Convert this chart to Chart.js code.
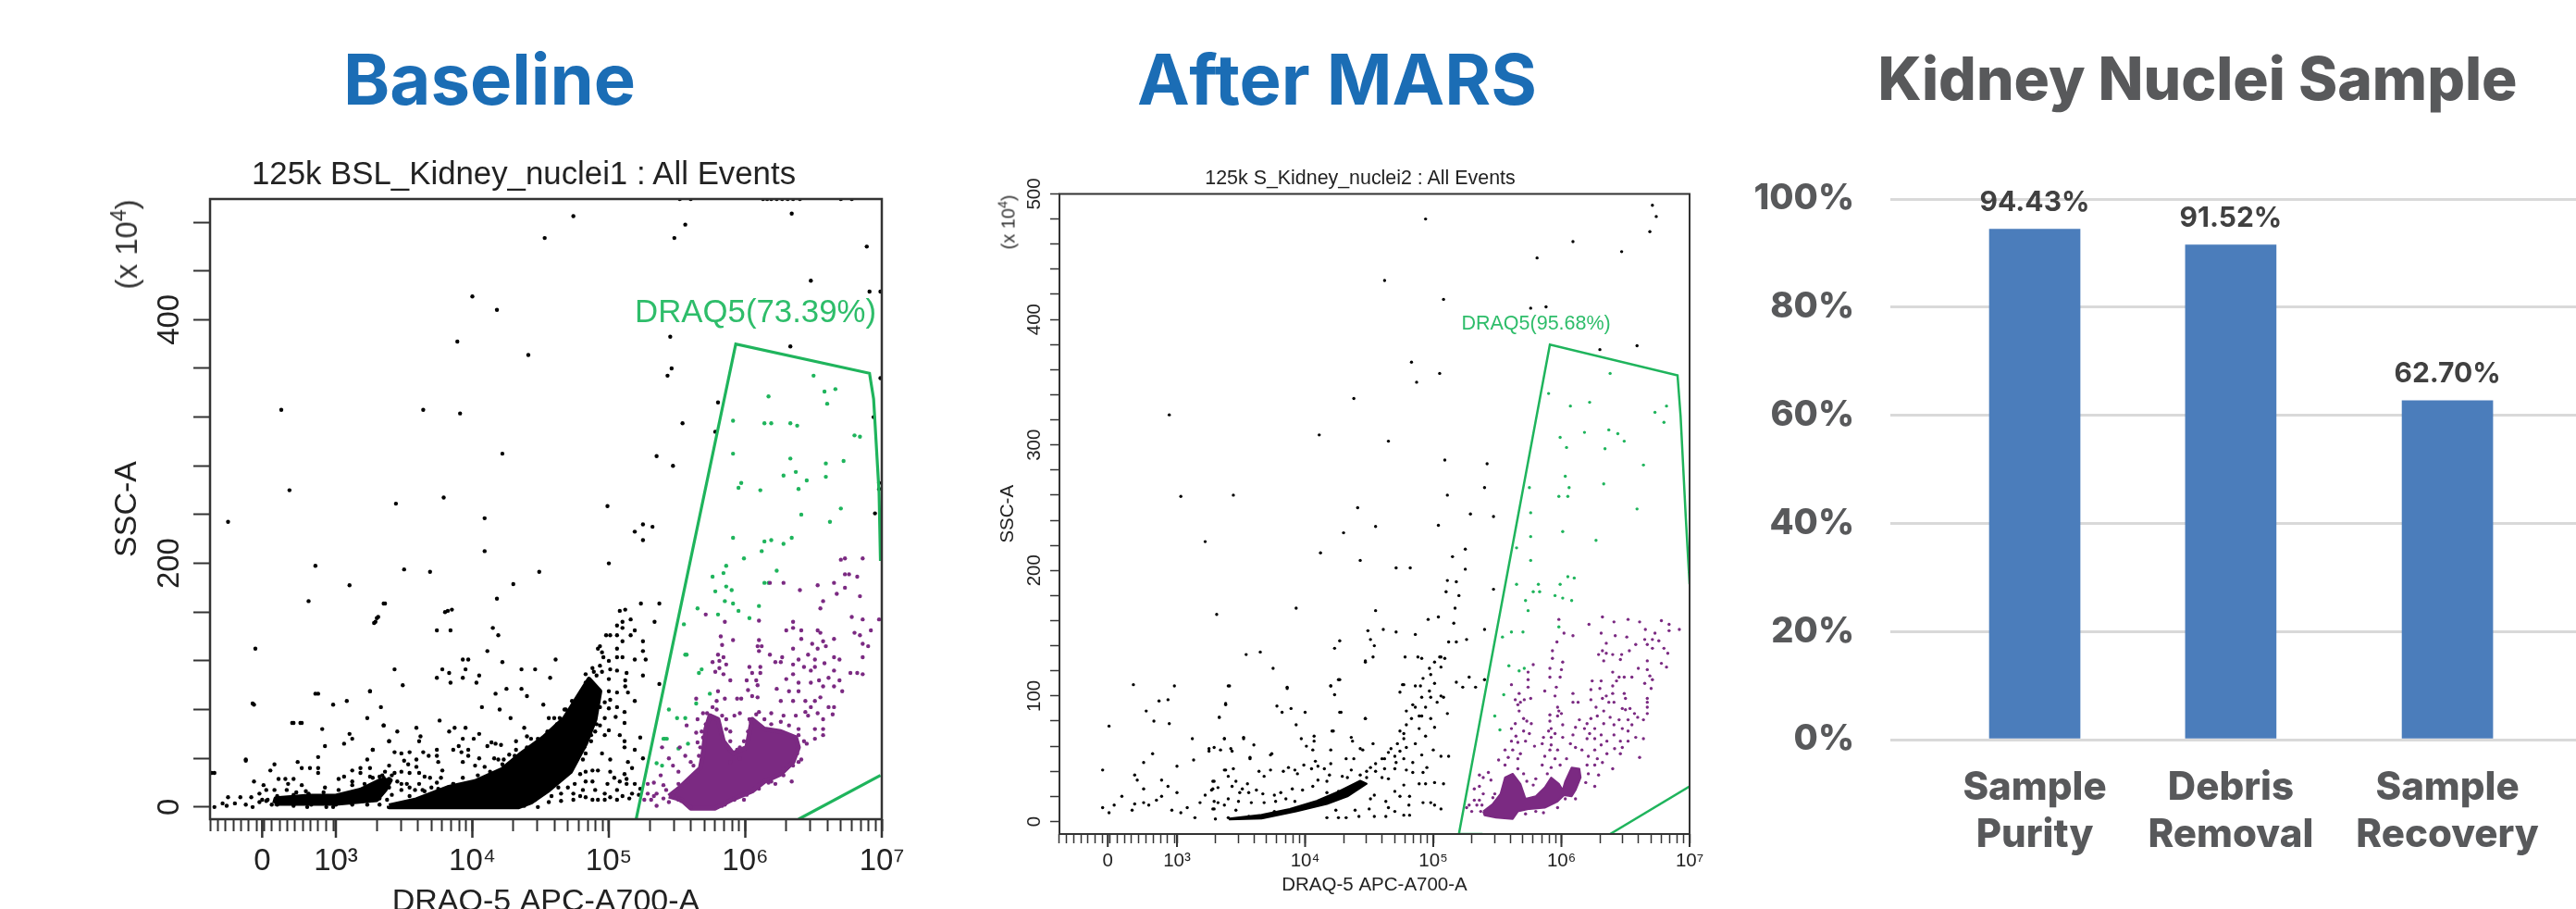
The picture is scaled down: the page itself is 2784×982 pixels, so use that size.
<!DOCTYPE html>
<html>
<head>
<meta charset="utf-8">
<title>Kidney Nuclei Sample</title>
<script src="https://cdn.jsdelivr.net/npm/chart.js@4"></script>
<style>
  html, body { margin: 0; background: #fff; }
  body { position: relative; width: 2784px; height: 982px; overflow: hidden; }
  canvas { position: absolute; }
  #baseline, #mars { filter: blur(0.6px); }
  .heading { position: absolute; top: 85px; transform: translate(-50%, -50%); font: 700 76px Inter, sans-serif; white-space: nowrap; line-height: 1; }
  .plot-title { position: absolute; transform: translate(-50%, -50%); font-family: "Liberation Sans", sans-serif; color: #222; white-space: nowrap; filter: blur(0.5px); }
  .unit { position: absolute; font-family: "Liberation Sans", sans-serif; color: #333; white-space: nowrap; transform: translate(-50%, -50%) rotate(-90deg); filter: blur(0.5px); }
  .unit sup { font-size: 70%; line-height: 0; }
</style>
</head>
<body>
<div class="heading" style="left:529px;color:#1b6db5">Baseline</div>
<div class="heading" style="left:1445px;color:#1b6db5">After MARS</div>
<div class="heading" style="left:2375px;color:#58595b;font-size:64px;font-weight:800">Kidney Nuclei Sample</div>
<div class="plot-title" style="left:566px;top:187px;font-size:34.8px">125k BSL_Kidney_nuclei1 : All Events</div>
<div class="plot-title" style="left:1470px;top:192px;font-size:21.4px">125k S_Kidney_nuclei2 : All Events</div>
<div class="unit" style="left:137px;top:264px;font-size:33px">(x 10<sup>4</sup>)</div>
<div class="unit" style="left:1090px;top:240px;font-size:20px">(x 10<sup>4</sup>)</div>
<canvas id="baseline" width="936" height="870" style="left:100px;top:150px"></canvas>
<canvas id="mars" width="820" height="812" style="left:1060px;top:170px"></canvas>
<canvas id="summary" width="904" height="800" style="left:1880px;top:150px"></canvas>
<script>
// all flow values: x in decades of the biexponential axis, y in SSC-A x 10^4
const baselineGate = [[5.20,-10],[5.93,380],[6.91,356],[6.94,335],[6.98,258],[6.99,202]];
const baselineGateLow = [[6.39,-10],[6.99,26]];
const baselineBlackCore = [[3.39,1],[3.59,6],[3.82,16],[4.02,21],[4.22,31],[4.36,44],[4.52,57],[4.675,73],[4.765,89],[4.855,105],[4.935,95],[4.90,72],[4.83,52],[4.72,29],[4.56,14],[4.43,4],[4.335,0],[3.39,0],[3.39,1]];
const baselineBlackBand = [[2.55,3],[2.56,7],[2.8,9],[3.0,9],[3.18,14],[3.33,22],[3.40,22],[3.36,14],[3.30,6],[3.0,3],[2.55,3]];
const baselinePurpleCore = [[5.44,9],[5.51,15],[5.67,32],[5.69,44],[5.71,64],[5.74,75],[5.80,72],[5.84,54],[5.91,44],[6.01,49],[6.05,72],[6.14,64],[6.26,62],[6.37,57],[6.39,49],[6.35,37],[6.26,27],[6.14,21],[6.05,13],[5.90,6],[5.78,-1],[5.60,-1],[5.53,6],[5.44,9]];
const baselineBlack = [
  [2.09,28],[2.21,234],[2.39,85],[2.41,130],[2.34,38],[2.60,326],[2.66,260],[2.85,198],[2.80,169],[2.85,93],[2.68,69],[2.74,69],
  [3.44,249],[3.64,326],[3.91,323],[3.79,254],[4.00,419],[4.18,408],[3.89,382],[4.41,371],[4.22,290],[4.09,237],[4.09,210],[4.99,247],
  [3.50,195],[3.69,193],[3.10,182],[3.35,167],[3.30,155],[3.28,151],[3.80,160],[3.85,162],[4.30,183],[4.49,193],[4.18,171],[5.00,200],
  [4.74,485],[4.53,467],[5.56,478],[5.48,467],[6.34,487],[6.89,460],[6.48,432],[6.91,423],[6.99,423],[5.45,386],[6.33,378],[5.46,360],[5.43,354],
  [5.80,332],[5.54,315],[5.78,308],[5.35,288],[5.47,280],[6.99,352],[6.94,320],[6.98,266],[6.98,261],[6.95,241],[5.25,232],[5.19,226],[5.32,230],[5.25,219],
  [6.13,499],[6.16,499],[6.19,499],[6.23,499],[6.27,499],[6.31,499],[6.35,499],[6.4,499],[6.7,499],[6.78,499],[5.6,499],[5.52,499],
  [3.36,167],[3.31,156],[3.29,152],[3.82,161],[3.74,145],[3.84,145],[4.15,147],[4.19,141],[4.11,128],[3.93,121],[3.97,121],[4.22,119],[4.61,121],
  [3.43,113],[3.78,113],[3.95,113],[4.36,113],[4.46,113],[3.83,110],[3.74,106],[3.93,106],[4.05,108],[3.84,102],[4.03,102],[3.49,100],[4.25,97],[4.36,97],[4.57,106],
  [3.25,95],[4.17,93],[4.40,91],[3.33,82],[4.07,82],[4.20,80],[4.52,84],[3.76,71],[4.28,73],[3.35,67],[3.59,65],[3.87,65],[3.95,65],[3.83,62],[4.38,65],[3.45,62],
  [3.62,58],[4.05,60],[4.01,56],[3.93,56],[3.61,54],[3.39,54],[4.40,58],[4.43,56],[4.56,73],[4.60,73],[4.64,73],[3.27,47],[3.90,50],[3.97,47],[3.86,47],[4.11,50],[4.14,53],[4.17,52],[4.21,51],[4.32,54],[4.32,47],
  [3.43,45],[3.48,44],[3.54,45],[3.64,45],[3.68,42],[3.74,47],[3.74,42],[3.92,45],[3.97,42],[4.05,40],[4.16,40],[4.19,39],[4.23,39],[4.27,43],
  [3.50,38],[3.59,39],[3.53,35],[3.39,34],[3.59,33],[3.75,37],[3.93,37],[4.02,34],[4.09,33],[3.78,30],[3.61,28],[3.54,28],[3.48,29],[3.36,29],[3.32,25],[3.39,23],[3.45,21],[3.52,19],[3.61,19],[3.69,24],[3.74,20],[3.77,24],[3.65,25],[3.93,24],[3.86,19],[3.58,14],[3.48,14],[3.41,10],[3.32,11],[3.54,9],[3.65,13],[3.75,15],[3.70,16],[3.27,16],[3.34,16],
  [4.675,80],[4.73,87],[4.83,109],[4.88,114],[4.91,108],[4.95,111],[5.00,120],[4.96,123],[4.92,130],[4.95,127],[4.935,132],[5.06,130],[5.06,123],[5.10,123],[5.01,113],[5.06,112],[5.13,110],[5.00,105],[5.12,104],[5.12,99],[5.14,94],[5.0,95],[5.06,94],[4.97,86],[5.01,88],[5.06,82],[5.0,81],[4.97,73],[5.05,74],[5.115,78],[5.115,69],[4.935,67],[5.0,63],[5.08,59],[5.115,54],[5.115,49],[4.97,59],[4.90,62],[4.87,54],[4.83,44],[4.81,39],
  [4.98,141],[5.01,141],[5.06,141],[5.16,141],[5.10,136],[5.25,136],[5.25,128],[5.19,121],[5.27,121],[5.25,108],[5.37,101],[5.19,87],[5.06,149],[5.10,152],[5.16,154],[5.10,147],[5.19,145],[5.08,161],[5.12,162],[5.235,167],[5.37,167],[5.335,152],
  [5.23,57],[5.19,47],[5.25,40],[5.14,37],[5.17,32],[5.115,27],[5.01,39],[4.95,44],[4.88,30],[4.92,30],[4.83,29],[5.01,29],[5.04,24],[4.83,21],[4.88,21],[4.99,19],[4.79,27],[4.75,19],[4.70,16],[4.65,11],[4.74,11],[4.81,14],[4.90,14],[4.97,11],[5.06,14],[5.13,19],[5.19,19],[5.23,15],[5.17,11],[5.10,9],[5.01,8],[4.92,6],[4.83,8],[4.74,6],[4.65,5],[4.56,4],[4.48,0],[4.38,1],[4.63,16],[4.58,9],[5.15,7],[5.22,10],[5.13,23],[5.08,21],[4.79,9],[4.88,6],[4.97,6],[5.06,6],
  [2.11,28],[2.40,84],[2.87,93],[2.98,84],[3.08,87],[3.25,95],[2.69,69],[2.75,69],[3.23,73],[3.35,67],[2.90,64],[3.10,60],[3.12,56],[3.06,52],[2.92,50],[3.39,54],[3.27,47],[2.34,39],[2.87,41],[3.23,39],[2.72,37],[2.55,35],[2.52,30],[2.75,32],[2.81,32],[2.87,32],[2.87,28],[3.12,30],[3.18,32],[3.18,28],[3.25,32],[2.40,21],[2.58,23],[2.63,23],[2.69,23],[3.02,23],[3.06,25],[3.12,21],[3.25,25],[2.65,19],[2.47,18],[2.75,18],
  [2.21,8],[2.30,8],[2.38,8],[2.44,11],[2.49,14],[2.55,14],[2.64,14],[2.71,12],[2.78,13],[2.92,16],[2.11,0],[2.17,3],[2.20,1],[2.26,3],[2.34,2],[2.39,0],[2.44,4],[2.50,6],[2.53,2],[2.79,0],[2.93,0],[2.98,0],[3.32,21],[3.35,24],[3.41,26],[3.23,7],[3.27,14],[3.32,7],[3.375,6],[3.43,2],
  [3.86,19],[4.04,26],[4.13,29],[4.22,35],[4.31,42],[4.40,49],[4.48,56],[4.55,62],[4.62,68],[4.685,80],[4.74,86],[4.80,95],[4.83,102],[4.89,111],[4.935,116],[4.91,92],[4.935,82],[4.91,68],[4.87,59],[4.82,49],[4.765,39],[4.70,29],[4.63,21],[4.55,15],[4.46,6],
  [3.27,24],[3.34,26],[3.43,28],[3.39,16],[3.48,19],[3.54,16],[3.635,14],[3.70,10],[3.79,14],
  [2.46,6],[2.49,5],[2.57,9],[2.69,10],[2.80,11],[2.91,12],[3.02,14],[3.12,18],[3.21,19],[2.57,2],[2.69,1],[2.82,2],[3.0,2],[3.12,2],[3.23,2],[3.32,2]
];
const baselineGreen = [
  [6.17,337],[6.58,341],[6.66,343],[6.60,331],[6.50,354],[5.91,317],[6.14,315],[6.19,315],[6.33,315],[6.38,313],[6.80,305],[6.84,304],[5.91,290],[6.33,286],[6.72,284],[6.59,282],[6.28,272],[6.37,275],[6.45,268],[6.59,271],[5.97,266],[5.95,262],[6.11,260],[6.39,261],[6.70,245],[6.41,240],[6.62,234],[5.91,221],[6.34,221],[6.14,218],[6.19,219],[6.28,216],[6.12,210],[5.99,204],[5.86,198],[5.76,189],[6.23,194],[6.14,184],[6.17,184],[5.84,192],[5.86,181],[5.78,177],[5.90,178],[5.85,169],[5.91,167],[5.80,158],[5.95,161],[5.65,163],[6.03,155],[6.10,165],[5.55,150],[5.57,125],[5.68,113],[5.50,73],[5.41,56],[5.51,48],[5.64,85],[5.74,93],[5.35,36],
  [5.40,56],[5.425,56],[5.58,52],[5.56,73],[5.66,110],[5.56,125],[5.44,80],[5.39,34]
];
const baselinePurple = [
  [6.70,203],[6.73,204],[6.86,204],[6.73,191],[6.76,191],[6.82,189],[6.65,184],[6.53,182],[6.73,180],[6.40,178],[6.18,184],[6.28,184],[6.67,175],[6.84,173],[6.57,169],[6.55,163],[6.78,156],[6.86,154],[6.98,154],[6.35,152],[6.35,147],[6.41,145],[6.30,145],[6.53,145],[6.55,143],[6.80,143],[6.84,141],[6.92,145],[6.65,138],[6.41,138],[6.57,136],[6.49,134],[6.59,132],[6.53,130],[6.35,130],[6.86,134],[6.90,132],[6.18,125],[6.27,123],[6.46,125],[6.65,123],[6.69,121],[6.86,123],[6.22,119],[6.26,119],[6.39,121],[6.51,121],[6.58,118],[6.35,117],[6.43,115],[6.51,115],[6.48,112],[6.65,112],[6.77,110],[6.82,110],[6.86,109],[6.03,115],[6.05,110],[6.11,115],[6.11,110],[6.35,109],[6.30,105],[6.39,102],[6.48,102],[6.54,104],[6.61,106],[6.69,104],[6.65,99],[6.57,99],[6.71,95],
  [5.82,140],[5.83,133],[5.91,137],[6.10,137],[6.09,132],[6.12,132],[6.10,128],[6.10,153],[5.85,152],[5.71,158],[5.80,125],[5.84,123],[5.81,120],[5.76,119],[5.86,117],[5.78,111],[5.84,109],[5.81,114],[5.89,104],[6.01,104],[6.08,104],[6.09,100],[6.02,96],[6.05,91],[6.09,90],[5.80,95],[5.79,87],[5.85,89],[5.64,89],[5.94,89],[5.97,89],
  [6.23,97],[6.32,95],[6.39,95],[6.26,87],[6.35,87],[6.44,87],[6.51,87],[6.55,90],[6.61,82],[6.65,82],[6.48,82],[6.37,75],[6.44,78],[6.46,75],[6.53,77],[6.57,72],[6.64,76],[6.51,64],[6.57,64],[6.57,59],[6.51,56],[6.45,52],[6.39,64],[6.28,75],[6.19,77],[6.10,78],[6.03,72],[5.96,77],[5.92,75],[5.86,72],[5.89,62],[5.69,77],[5.65,72],[5.68,62],[5.57,67],[5.64,61],[5.65,53],[5.52,49],[5.39,49],[5.44,40],[5.56,42],[5.60,37],[5.47,34],[5.51,29],[5.38,26],[5.33,20],[5.285,19],[5.40,18],[5.285,11],[5.26,6],[5.33,9],[5.40,7],[5.35,1],[5.44,4],[5.51,6],[5.89,37],[5.96,40],[5.96,49],[5.88,48],[6.41,39],[6.39,37],[6.34,21],[6.22,19],[6.17,20],[6.28,31],[5.99,6],[5.85,2],
  [5.67,49],[5.69,57],[5.71,68],[5.72,77],[5.76,82],[5.79,80],[5.83,75],[5.86,64],[5.89,54],[5.94,47],[5.99,54],[6.02,62],[6.04,70],[6.08,76],[6.14,72],[6.19,68],[6.26,70],[6.32,67],[6.39,59],[6.43,54],[6.38,44],[6.35,34],[6.28,26],[6.19,21],[6.10,15],[6.01,10],[5.92,6],[5.83,1],[5.60,0],[5.53,5],[5.47,9],[5.58,21],[5.65,29],[5.51,19],[5.42,14],[5.35,11],[5.31,6],[5.62,34],[5.66,42]
];

const marsGate = [[5.385,-10],[5.20,-10],[5.91,380],[6.906,355.5],[6.93,323],[6.97,243],[7.0,189]];
const marsGateLow = [[6.38,-10],[7.0,28]];
const marsBlackCore = [[3.41,2.4],[3.66,5.4],[3.88,10],[4.09,16.4],[4.26,23.8],[4.43,32.4],[4.48,30],[4.33,20],[4.17,14],[3.93,8],[3.66,2.4],[3.41,1.7],[3.41,2.4]];
const marsPurpleCore = [[5.39,8],[5.465,14],[5.525,22],[5.56,35],[5.62,38],[5.68,30],[5.72,18],[5.80,20],[5.87,27],[5.92,35],[5.98,30],[6.01,25],[6.03,32],[6.08,43],[6.14,42],[6.15,35],[6.11,25],[6.08,20],[6.02,21],[5.97,16],[5.87,11],[5.75,10],[5.66,8],[5.62,2],[5.49,3],[5.40,5],[5.39,8]];
const marsBlack = [
  [4.94,480],[4.62,431],[5.08,416],[6.71,491],[6.74,482],[6.69,470],[6.09,462],[6.47,454],[5.81,449],[5.76,409],[5.88,410],[6.59,379],[6.30,376],[4.83,366],[5.05,357],[4.87,350],[4.38,337],[2.94,324],[4.11,308],[4.65,303],[5.09,288],[5.42,285],[5.40,266],[5.11,260],[3.03,259],[3.44,260],[4.41,250],[5.47,243],[5.29,245],[5.04,236],[4.55,235],[4.30,230],[3.22,223],[4.12,214],[5.25,217],[5.15,211],[4.43,208],[4.71,202],[4.82,202],[5.25,201],[5.11,192],[5.18,191],[5.10,183],[5.20,180],[5.47,185],[3.93,170],[4.55,168],[3.31,165],[5.17,170],[5.04,163],[4.96,161],[5.16,158],[5.40,153],[4.49,152],[4.61,153],[4.71,151],[4.86,149],[4.51,145],[4.27,144],[5.26,145],[5.12,143],[4.23,138],[4.54,140],[5.18,143],[3.65,135],[3.54,133],[5.09,130],[5.05,131],[4.47,127],[4.78,131],[4.88,131],[3.75,122],[4.26,113],[2.66,109],[2.98,108],[3.40,108],[4.20,108],[4.76,109],[3.86,106],[5.18,111],[5.28,115],[5.40,113],[5.23,107],[5.33,107],[2.86,96],[2.93,97],[3.38,94],[3.78,92],[4.0,87],[3.82,87],[2.76,88],[2.82,80],[2.94,78],[3.33,83],[4.27,87],[4.47,82],[4.22,72],[2.47,76],[5.08,99],[5.11,86],[5.12,52],[2.42,41],
  [2.67,37],[2.81,54],[2.74,47],[2.69,33],[2.57,20],[2.88,33],[3.0,44],[2.42,11],[2.47,7],[2.51,13],[2.65,9],[2.67,14],[2.74,15],[2.78,13],[2.84,17],[2.88,20],[2.74,26],[2.93,28],[3.0,23],[2.96,9],[3.08,11],[3.03,7],[3.18,15],[3.14,3],[3.12,66],[3.25,58],[3.37,66],[3.13,49],[3.52,67],[3.42,58],[3.57,51],[3.29,32],[3.27,25],[3.29,10],[3.38,41],[3.74,54],[3.46,32],
  [3.41,108],[3.86,107],[3.38,93],[3.33,83],[3.89,90],[4.28,87],[4.20,108],[4.27,113],[4.23,101],[4.47,128],[4.53,131],[4.91,130],[4.77,109],[4.74,103],[4.86,108],[4.90,108],[3.93,77],[4.21,72],[4.47,82],[3.37,66],[3.52,66],[3.60,61],[3.97,66],[4.07,68],[4.07,64],[4.36,67],[4.37,64],[4.01,60],[4.06,57],[4.20,57],[4.43,58],[4.45,57],[4.53,62],[3.29,59],[3.25,56],[3.34,57],[3.43,56],[3.73,53],[3.57,50],[4.32,50],[4.38,50],
  [3.37,41],[3.44,42],[3.64,40],[3.73,41],[3.40,36],[3.68,36],[3.83,40],[3.87,43],[3.92,41],[3.94,38],[3.99,45],[4.05,42],[4.10,44],[4.15,42],[4.20,46],[4.08,48],[3.28,32],[3.32,27],[3.28,26],[3.43,28],[3.55,30],[3.51,26],[3.49,23],[3.56,23],[3.62,25],[3.67,22],[3.76,21],[3.81,23],[3.90,26],[3.98,25],[4.06,28],[4.10,33],[4.17,32],[4.19,37],[4.29,36],[4.33,35],[4.36,41],[3.22,21],[3.29,16],[3.32,15],[3.40,18],[3.48,16],[3.58,15],[3.68,15],[3.77,16],[3.85,18],[3.92,16],
  [3.28,10],[3.37,13],[3.46,9],[3.30,2],[4.17,3],[4.26,3],[4.32,3],[4.42,4],[4.54,4],[4.63,4],[4.77,5],[4.815,5],[4.24,9],[4.39,9],[4.50,10],[4.65,11],[4.70,8],[4.81,13],[4.92,15],[4.98,15],[5.01,13],[5.06,10],[4.51,18],[4.63,16],[4.74,20],[4.815,20],[4.54,21],[4.77,29],[4.89,30],[4.94,30],[5.01,31],[5.08,30],[4.70,24],
  [4.43,37],[4.48,40],[4.51,43],[4.55,46],[4.60,50],[4.65,55],[4.62,50],[4.70,52],[4.67,58],[4.72,62],[4.77,66],[4.74,72],[4.79,77],[4.83,82],[4.86,91],[4.91,99],[4.97,104],[5.01,110],[4.98,117],[5.01,127],[5.06,131],[4.92,114],[4.97,122],[5.06,123],
  [4.48,35],[4.55,40],[4.62,42],[4.70,42],[4.60,35],[4.65,34],[4.71,47],[4.77,50],[4.84,47],[4.91,53],[4.86,62],[4.94,68],[4.79,59],[4.74,56],[4.77,70],[4.89,74],[4.98,82],[4.89,84],[4.79,88],[4.94,91],[5.03,95],[4.98,99],[5.06,100],[4.84,93],[4.91,84],[5.01,75],[5.0,57],[5.06,52],[4.95,43],[4.84,39],[4.79,41],[4.92,39],
  [3.40,3],[3.56,4],[3.76,8],[3.92,10],[4.07,14],[4.21,20],[4.36,24],[4.43,30],[4.26,24],[4.17,23]
];
const marsGreen = [
  [5.90,341],[6.07,331],[6.22,334],[6.38,357],[6.73,326],[6.82,331],[6.80,318],[5.99,306],[6.18,310],[6.37,312],[6.44,309],[6.49,303],[6.04,298],[6.34,297],[6.64,284],[6.03,275],[6.06,266],[6.33,269],[5.98,259],[6.05,259],[5.75,266],[6.59,249],[5.76,246],[6.01,231],[6.27,224],[5.76,227],[5.65,218],[5.76,208],[5.65,189],[5.99,189],[6.05,195],[6.10,194],[5.82,189],[5.78,183],[5.83,183],[5.72,176],[5.74,168],[5.95,180],[6.01,178],[6.08,176],[5.98,155],[5.54,147],[5.61,151],[5.70,151],[5.59,124],[5.67,120],[5.71,122],[5.48,84],[5.55,101],[5.52,73]
];
const marsPurple = [
  [6.215,157],[6.41,159],[6.52,161],[6.32,163],[6.61,159],[6.78,160],[6.84,157],[6.92,153],[6.84,152],[6.655,153],[6.73,150],[6.31,150],[6.42,148],[6.51,147],[6.71,145],[6.76,144],[6.65,145],[5.98,161],[6.02,150],[6.09,148],[6.35,142],[6.58,141],[6.67,141],[6.71,138],[6.80,138],[5.965,143],[6.32,136],[6.35,134],[6.40,133],[6.53,136],[6.47,133],[6.29,133],[6.83,134],[5.93,136],[5.93,130],[6.46,129],[6.33,128],[6.67,128],[6.78,126],[6.82,123],[6.01,127],[5.78,125],[5.91,122],[6.0,121],[6.60,122],[6.67,121],[6.40,119],[6.69,116],[6.71,113],[6.45,115],[6.49,115],[6.55,115],
  [5.74,119],[5.91,115],[5.99,115],[5.74,113],[6.43,112],[6.24,112],[6.31,112],[6.40,108],[6.65,110],[6.70,106],[5.61,109],[5.74,107],[5.96,107],[6.23,105],[6.30,106],[5.87,104],[6.09,102],[6.49,102],[6.40,102],[5.67,102],[6.35,100],[6.32,98],[5.95,100],[6.50,98],[6.23,97],[5.76,98],[6.67,98],[6.09,95],[6.13,95],[6.37,95],[6.41,95],[6.67,95],[5.64,97],[5.68,95],[5.71,97],[5.66,93],[6.67,91],[6.475,90],[6.50,89],[5.97,91],[6.27,91],[6.33,88],[5.67,88],[5.98,88],[6.67,86],[5.91,85],[5.97,84],[6.0,86],[6.57,86],[6.535,90],[6.28,84],[6.38,83],[6.45,81],[6.595,83],[6.64,81],[6.23,82],[6.14,81],[5.91,80],[5.705,82],[5.64,78],[5.61,74],[5.73,80],[5.765,78],[6.01,77],[6.20,78],[6.52,81],[6.55,77],[6.33,78],[6.41,77],
  [5.92,74],[6.11,75],[6.18,74],[6.26,74],[6.475,74],[5.705,72],[5.75,70],[5.90,72],[5.95,70],[6.09,69],[6.22,70],[6.31,69],[6.41,69],[6.52,72],[6.58,67],[6.64,66],[5.645,68],[5.86,67],[5.92,67],[6.01,67],[6.20,66],[6.26,66],[6.355,64],[6.46,64],[6.52,64],[5.61,64],[5.66,63],[5.72,64],[5.85,62],[5.92,61],[6.07,62],[5.79,60],[6.11,59],[6.31,61],[6.475,59],[6.415,58],[5.56,57],[5.62,57],[5.68,54],[5.91,57],[5.97,57],[6.16,57],[6.26,57],[6.355,54],[6.46,54],[6.61,51],[5.585,51],[5.66,50],[5.87,52],[5.95,50],[6.04,50],[6.21,52],[6.28,50],[5.51,49],[5.56,45],[5.66,42],[5.85,45],[5.92,43],[5.99,45],[6.20,45],[6.26,45],[6.32,47],[6.40,42],[5.89,38],[6.21,38],[6.29,37],
  [5.36,37],[5.43,39],[5.39,35],[5.45,33],[5.705,38],[5.73,32],[5.80,34],[5.78,29],[6.19,31],[6.26,28],[5.36,28],[5.32,26],[5.39,22],[5.48,22],[5.32,17],[5.36,17],[5.465,19],[5.28,13],[5.34,13],[5.30,8],[5.38,13],[6.11,18],[5.97,11],[5.86,7],[5.80,8],[5.72,6],[6.03,18],[5.26,11],[5.37,8]
];

const flowMajorTicks = [2.46, 3, 4, 5, 6, 7];
const flowMajorLabels = ['0', '10³', '10⁴', '10⁵', '10⁶', '10⁷'];

const categories = [['Sample', 'Purity'], ['Debris', 'Removal'], ['Sample', 'Recovery']];
const percentValues = [94.43, 91.52, 62.70];
const categorySlots = [0, 0.95, 2];

const GREEN = '#1fb45c';
const PURPLE = '#7b2a82';
const AXIS = '#333333';

function flowMinorTicks() {
  const out = [];
  for (let v = 2.08; v < 3; v += 0.0565) out.push(v);
  for (let d = 3; d < 7; d++) {
    for (let m = 2; m < 10; m++) out.push(d + Math.log10(m));
  }
  return out;
}

const flowFrame = {
  id: 'flowFrame',
  afterDraw(chart) {
    const { ctx, chartArea: a, scales } = chart;
    const opt = chart.options.plugins.flowFrame;
    ctx.save();
    ctx.strokeStyle = AXIS;
    ctx.lineWidth = opt.line;
    ctx.strokeRect(a.left, a.top, a.width, a.height);
    flowMajorTicks.forEach(v => {
      const px = scales.x.getPixelForValue(v);
      ctx.beginPath();
      ctx.moveTo(px, a.bottom);
      ctx.lineTo(px, a.bottom + opt.major);
      ctx.stroke();
    });
    ctx.fillStyle = '#2ebd6a';
    ctx.font = opt.gateFont + 'px "Liberation Sans"';
    ctx.textAlign = 'left';
    ctx.textBaseline = 'middle';
    ctx.fillText(opt.gateText, scales.x.getPixelForValue(opt.gateAt[0]), scales.y.getPixelForValue(opt.gateAt[1]));
    ctx.restore();
  }
};

function flowChart(id, s) {
  const font = { family: '"Liberation Sans"', size: s.font };
  const titleFont = { family: '"Liberation Sans"', size: s.axisTitle };
  const ds = (data, color, r) => ({ data, pointRadius: r, pointBackgroundColor: color, pointBorderWidth: 0, showLine: false });
  const gateLine = data => ({ data, showLine: true, borderColor: GREEN, borderWidth: s.gateWidth, pointRadius: 0, fill: false, tension: 0 });
  const core = (data, color) => ({ data, showLine: true, borderColor: color, borderWidth: s.coreEdge, borderJoinStyle: 'round', backgroundColor: color, pointRadius: 0, fill: 'shape', tension: 0 });
  return new Chart(document.getElementById(id), {
    type: 'scatter',
    data: {
      datasets: [
        gateLine(s.gate),
        gateLine(s.gateLow),
        ds(s.purple, PURPLE, s.dot),
        ds(s.green, GREEN, s.dot),
        core(s.purpleCore, PURPLE),
        ds(s.black, '#000', s.dot)
      ].concat(s.blackCores.map(c => core(c, '#000')))
    },
    options: {
      responsive: false,
      animation: false,
      events: [],
      layout: { padding: { left: s.left, right: s.right, top: s.top } },
      plugins: {
        legend: { display: false },
        tooltip: { enabled: false },
        flowFrame: s.frame
      },
      scales: {
        x: {
          type: 'linear',
          min: s.xMin,
          max: 7,
          afterBuildTicks: ax => { ax.ticks = flowMajorTicks.concat(flowMinorTicks()).sort((a, b) => a - b).map(value => ({ value })); },
          afterFit: ax => { ax.height = s.xHeight; },
          grid: { drawOnChartArea: false, drawTicks: true, tickLength: s.xTick, tickColor: AXIS, tickWidth: s.tickWidth },
          border: { display: false },
          ticks: {
            autoSkip: false, maxRotation: 0, color: '#222', font, padding: s.xPad + s.frame.major - s.xTick,
            callback: v => { const i = flowMajorTicks.indexOf(v); return i >= 0 ? flowMajorLabels[i] : ''; }
          },
          title: { display: true, text: 'DRAQ-5 APC-A700-A', color: '#222', font: titleFont, padding: { top: 0, bottom: s.xTitlePad } }
        },
        y: {
          type: 'linear',
          min: -10,
          max: s.yMax,
          afterBuildTicks: ax => { ax.ticks = s.yTicks.map(value => ({ value })); },
          afterFit: ax => { ax.width = s.yWidth; },
          grid: { drawOnChartArea: false, drawTicks: true, tickLength: s.yTick, tickColor: AXIS, tickWidth: s.tickWidth },
          border: { display: false },
          ticks: {
            autoSkip: false, minRotation: 90, crossAlign: 'center', color: '#222', font, padding: s.yPad,
            callback: v => (s.yLabels.includes(v) ? String(v) : '')
          },
          title: { display: true, text: 'SSC-A', color: '#222', font: titleFont, padding: 0 }
        }
      }
    },
    plugins: [flowFrame]
  });
}

const step = (n, by) => Array.from({ length: n }, (_, i) => i * by);

flowChart('baseline', {
  gate: baselineGate, gateLow: baselineGateLow, black: baselineBlack, green: baselineGreen, purple: baselinePurple,
  purpleCore: baselinePurpleCore, blackCores: [baselineBlackCore, baselineBlackBand],
  left: 17, right: 83, top: 65, font: 33, axisTitle: 34, dot: 2.2, coreEdge: 5, gateWidth: 3.2, tickWidth: 2,
  xMin: 2.078, yMax: 499, xHeight: 135, yWidth: 110, xTick: 13, yTick: 18, xPad: 6, yPad: -2, xTitlePad: 25,
  yTicks: step(13, 40), yLabels: [0, 200, 400],
  frame: { line: 2.5, major: 20, gateFont: 34.8, gateText: 'DRAQ5(73.39%)', gateAt: [5.19, 405] }
});

flowChart('mars', {
  gate: marsGate, gateLow: marsGateLow, black: marsBlack, green: marsGreen, purple: marsPurple,
  purpleCore: marsPurpleCore, blackCores: [marsBlackCore],
  left: 17, right: 54, top: 39.5, font: 20.5, axisTitle: 20.5, dot: 1.7, coreEdge: 2, gateWidth: 2.5, tickWidth: 1.5,
  xMin: 2.083, yMax: 500, xHeight: 81, yWidth: 68, xTick: 10, yTick: 10, xPad: 3, yPad: 0, xTitlePad: 13,
  yTicks: step(26, 20), yLabels: [0, 100, 200, 300, 400, 500],
  frame: { line: 2, major: 14, gateFont: 21.5, gateText: 'DRAQ5(95.68%)', gateAt: [5.22, 396] }
});

const barValueLabels = {
  id: 'barValueLabels',
  afterDatasetsDraw(chart) {
    const { ctx } = chart;
    ctx.save();
    ctx.font = '700 30px Inter';
    ctx.fillStyle = '#404040';
    ctx.textAlign = 'center';
    ctx.textBaseline = 'middle';
    chart.getDatasetMeta(0).data.forEach((el, i) => {
      ctx.fillText(percentValues[i].toFixed(2) + '%', el.x, el.y - 29);
    });
    ctx.restore();
  }
};

new Chart(document.getElementById('summary'), {
  type: 'bar',
  data: {
    datasets: [{
      data: percentValues.map((v, i) => ({ x: categorySlots[i], y: v })),
      backgroundColor: '#4b7dbb',
      barThickness: 98
    }]
  },
  options: {
    responsive: false,
    animation: false,
    events: [],
    layout: { padding: { top: 65, right: 0 } },
    plugins: { legend: { display: false }, tooltip: { enabled: false } },
    scales: {
      x: {
        type: 'linear',
        offset: false,
        min: -0.6996,
        max: 2.623,
        afterBuildTicks: ax => { ax.ticks = categorySlots.map(value => ({ value })); },
        afterFit: ax => { ax.height = 151; },
        grid: { display: false },
        border: { display: false },
        ticks: {
          autoSkip: false, maxRotation: 0, padding: 19, color: '#58595b',
          font: { family: 'Inter', size: 42, weight: 800, lineHeight: 1.22 },
          callback: v => categories[categorySlots.indexOf(v)]
        }
      },
      y: {
        min: 0,
        max: 100,
        afterFit: ax => { ax.width = 163; },
        grid: { color: '#d9d9d9', lineWidth: 3, drawTicks: false },
        border: { display: false },
        ticks: {
          stepSize: 20, padding: 39, color: '#58595b',
          font: { family: 'Inter', size: 38, weight: 800 },
          callback: v => v + '%'
        }
      }
    }
  },
  plugins: [barValueLabels]
});
</script>
</body>
</html>
